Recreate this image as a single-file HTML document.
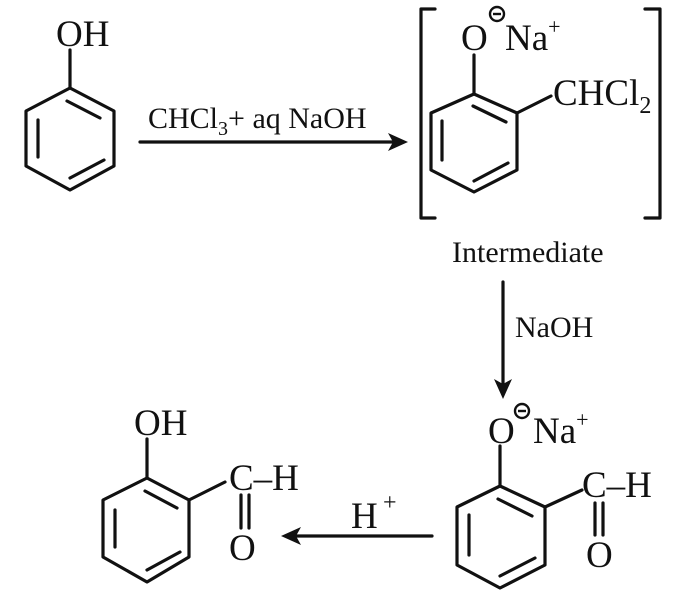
<!DOCTYPE html>
<html><head><meta charset="utf-8"><style>html,body{margin:0;padding:0;background:#fff}svg{display:block}</style></head><body>
<svg width="698" height="604" viewBox="0 0 698 604" xmlns="http://www.w3.org/2000/svg" font-family="Liberation Serif, serif" fill="#111">
<g stroke="#111" stroke-width="3.2" fill="none" stroke-linecap="round" stroke-linejoin="round">
<!-- phenol -->
<polygon points="70,88 114,111 114,166 70,190 26,166 26,111"/>
<line x1="70" y1="50" x2="70" y2="88"/>
<line x1="67" y1="101" x2="100" y2="118"/>
<line x1="38" y1="120" x2="38" y2="157"/>
<line x1="70" y1="178" x2="104" y2="160"/>
<!-- arrow 1 -->
<line x1="140" y1="142" x2="398" y2="142"/>
<!-- intermediate -->
<polygon points="474,94 517,113 517,170 474,192 431,170 431,113"/>
<line x1="474" y1="55" x2="474" y2="94"/>
<line x1="473" y1="106" x2="506" y2="122"/>
<line x1="442" y1="121" x2="442" y2="160"/>
<line x1="474" y1="181" x2="508" y2="163"/>
<line x1="517" y1="113" x2="551" y2="96"/>
<polyline points="435,9 421,9 421,218 435,218"/>
<polyline points="645,9 660,9 660,218 645,218"/>
<!-- down arrow -->
<line x1="503" y1="282" x2="503" y2="388"/>
<!-- bottom right -->
<polygon points="500,486 545,507 545,565 500,588 457,565 457,507"/>
<line x1="500" y1="446" x2="500" y2="486"/>
<line x1="498" y1="499" x2="532" y2="516"/>
<line x1="469" y1="515" x2="469" y2="555"/>
<line x1="500" y1="576" x2="535" y2="558"/>
<line x1="545" y1="507" x2="582" y2="490"/>
<line x1="595" y1="503" x2="595" y2="535"/>
<line x1="603" y1="503" x2="603" y2="535"/>
<!-- arrow H+ -->
<line x1="432" y1="536" x2="290" y2="536"/>
<!-- bottom left -->
<polygon points="147,478 189,500 189,557 147,582 103,557 103,500"/>
<line x1="147" y1="439" x2="147" y2="478"/>
<line x1="145" y1="491" x2="177" y2="508"/>
<line x1="115" y1="510" x2="115" y2="547"/>
<line x1="147" y1="570" x2="180" y2="552"/>
<line x1="189" y1="500" x2="225" y2="482"/>
<line x1="241" y1="495" x2="241" y2="528"/>
<line x1="249" y1="495" x2="249" y2="528"/>
<!-- minus circles -->
<circle cx="497" cy="14" r="7" stroke-width="2.4"/>
<circle cx="522" cy="411" r="7" stroke-width="2.4"/>
</g>
<g stroke="#111" stroke-width="2.4">
<line x1="493" y1="14" x2="501" y2="14"/>
<line x1="518" y1="411" x2="526" y2="411"/>
</g>
<!-- arrowheads -->
<path d="M408,142 L388,133 L393,142 L388,151 Z"/>
<path d="M503,399 L494,379 L503,384 L512,379 Z"/>
<path d="M281,536 L301,527 L296,536 L301,545 Z"/>
<g font-size="37">
<text x="56" y="46">OH</text>
<text x="461" y="50">O</text>
<text x="505" y="50">Na<tspan font-size="22" dy="-16">+</tspan></text>
<text x="553" y="105">CHCl<tspan font-size="24" dy="8">2</tspan></text>
<text x="488" y="443">O</text>
<text x="533" y="443">Na<tspan font-size="22" dy="-16">+</tspan></text>
<text x="582" y="497">C–H</text>
<text x="586" y="567">O</text>
<text x="134" y="435">OH</text>
<text x="229" y="490">C–H</text>
<text x="229" y="560">O</text>
<text x="351" y="528">H</text>
<text x="383" y="510" font-size="24">+</text>
</g>
<text x="148" y="128" font-size="30">CHCl<tspan font-size="20" dy="7">3</tspan><tspan dy="-7">+ aq NaOH</tspan></text>
<text x="452" y="262" font-size="30">Intermediate</text>
<text x="515" y="337" font-size="30">NaOH</text>
</svg>
</body></html>
